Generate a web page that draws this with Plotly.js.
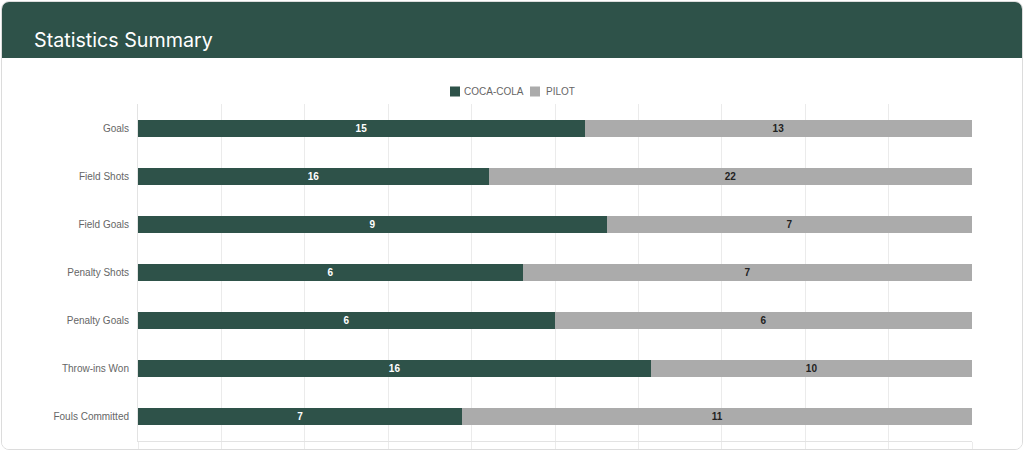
<!DOCTYPE html>
<html>
<head>
<meta charset="utf-8">
<script src="https://cdn.plot.ly/plotly-3.0.1.min.js"></script>
<style>
  html, body { margin:0; padding:0; background:#ffffff; }
  #wrap { position:absolute; left:1px; top:1px; width:1020px; height:447px; border:1px solid #dcdcdc; border-radius:8px; overflow:hidden; }
  #chart { width:1020px; height:447px; }
</style>
</head>
<body>
<div id="wrap"><div id="chart"></div></div>
<script>
const categories = ["Goals", "Field Shots", "Field Goals", "Penalty Shots", "Penalty Goals", "Throw-ins Won", "Fouls Committed"];
const cocaCola = [15, 16, 9, 6, 6, 16, 7];
const pilot = [13, 22, 7, 7, 6, 10, 11];
const seriesNames = ["COCA-COLA", "PILOT"];
const titleText = "Statistics Summary";

const green = "#2e5249";
const gray = "#ababab";
const labelFont = "Liberation Sans, Arial, sans-serif";

const traces = [
  {
    type: "bar", orientation: "h", name: seriesNames[0],
    y: categories, x: cocaCola, text: cocaCola.map(String),
    textposition: "inside", insidetextanchor: "middle",
    textfont: { color: "#ffffff", size: 10, family: labelFont, weight: "bold" },
    marker: { color: green }, hoverinfo: "x+y+name"
  },
  {
    type: "bar", orientation: "h", name: seriesNames[1],
    y: categories, x: pilot, text: pilot.map(String),
    textposition: "inside", insidetextanchor: "middle",
    textfont: { color: "#222222", size: 10, family: labelFont, weight: "bold" },
    marker: { color: gray }, hoverinfo: "x+y+name"
  }
];

const L = 136, R = 50, W = 1020, plotTop = 102, plotH = 337, plotW = W - L - R;
const headerBottomPx = 56;
const px2x = p => (p - L) / plotW;
const px2y = p => 1 + (plotTop - p) / plotH;

// custom compact legend
const legendY = 89.5;
const legendItems = [
  { name: seriesNames[0], color: green, sq: 448, tx: 460 },
  { name: seriesNames[1], color: gray, sq: 528, tx: 542 }
];

const shapes = [
  {
    type: "rect", xref: "paper", yref: "paper", layer: "below",
    x0: -0.3, x1: 1.2, y0: px2y(headerBottomPx), y1: 1.5,
    fillcolor: "#2e5249", line: { width: 0 }
  }
];
const annotations = [];
legendItems.forEach(it => {
  shapes.push({
    type: "rect", xref: "paper", yref: "paper",
    x0: px2x(it.sq), x1: px2x(it.sq + 10), y0: px2y(legendY + 5), y1: px2y(legendY - 5),
    fillcolor: it.color, line: { width: 0 }
  });
  annotations.push({
    xref: "paper", yref: "paper", x: px2x(it.tx), y: px2y(legendY),
    xanchor: "left", yanchor: "middle", showarrow: false, text: it.name,
    font: { size: 10, color: "#666666", family: labelFont }
  });
});

const layout = {
  width: W, height: 447,
  margin: { l: L, r: R, t: plotTop, b: 8 },
  paper_bgcolor: "#ffffff", plot_bgcolor: "#ffffff",
  barmode: "stack", barnorm: "percent", bargap: 0.645,
  font: { family: labelFont, color: "#666666", size: 10 },
  title: {
    text: titleText, xref: "container", yref: "container",
    x: 32/1020, xanchor: "left", y: 1 - 38/447, yanchor: "middle",
    font: { family: "Inter, Roboto, sans-serif", size: 19.7, color: "#ffffff" }
  },
  xaxis: {
    range: [0, 100], dtick: 10, showgrid: true, gridcolor: "#ebebeb", gridwidth: 1,
    showticklabels: false, ticks: "outside", ticklen: 8, tickcolor: "#ebebeb",
    showline: true, linecolor: "#e3e3e3", zeroline: false, fixedrange: true
  },
  yaxis: {
    autorange: "reversed", showgrid: false, zeroline: false,
    showline: true, linecolor: "#e3e3e3", ticks: "", ticklen: 0,
    ticklabelstandoff: 6,
    tickfont: { size: 10, color: "#666666" }, automargin: false, fixedrange: true
  },
  showlegend: false,
  shapes: shapes,
  annotations: annotations
};

Plotly.newPlot("chart", traces, layout, { displayModeBar: false, staticPlot: true });
</script>
</body>
</html>
